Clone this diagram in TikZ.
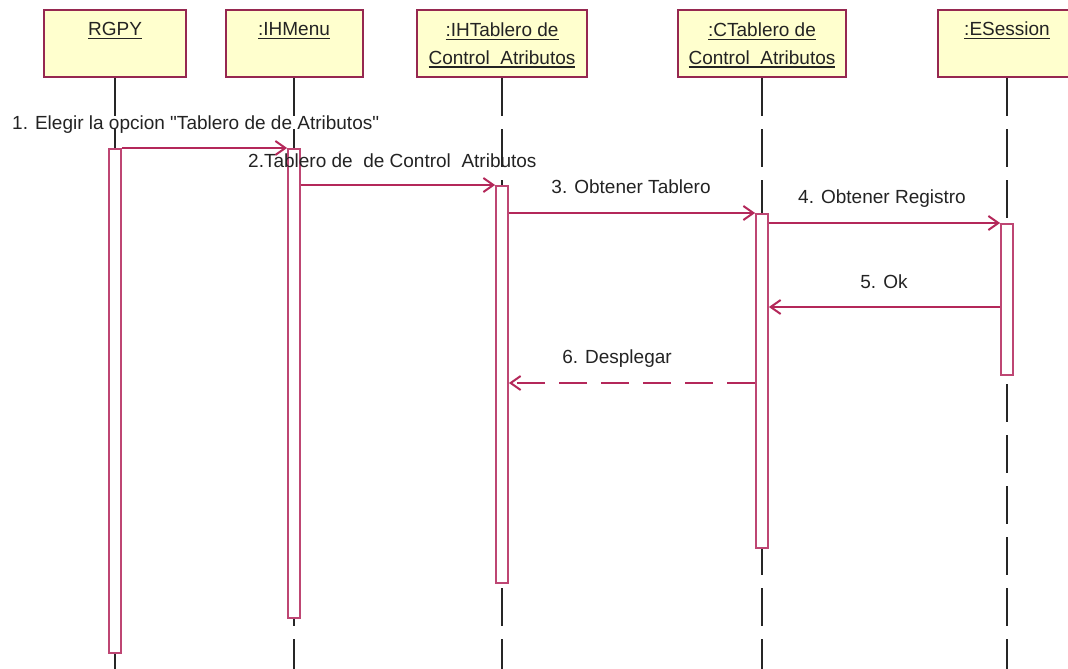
\documentclass[tikz,border=0pt]{standalone}
\usepackage{fontspec}
\newfontfamily\lsans{Liberation Sans}
\usetikzlibrary{arrows.meta}
\definecolor{boxline}{RGB}{150,40,80}
\definecolor{boxfill}{RGB}{255,255,206}
\definecolor{barline}{RGB}{190,70,115}
\definecolor{msg}{RGB}{180,40,90}
\definecolor{txt}{RGB}{35,35,35}
\newcommand\myul[1]{\sbox0{#1}\rlap{\rule[-3.5pt]{\wd0}{1.6pt}}\usebox0}
\begin{document}
\begin{tikzpicture}[x=1pt,y=-1pt,
 obj/.style={draw=boxline, line width=2pt, fill=boxfill, inner sep=0pt, minimum height=67pt},
 lab/.style={inner sep=0pt, text=txt, font=\lsans\fontsize{19}{22}\selectfont},
 life/.style={draw=black!85, line width=1.6pt, dash pattern=on 38pt off 13pt},
 actbar/.style={draw=barline, line width=1.8pt, fill=white, inner sep=0pt, minimum width=12pt, anchor=north},
 msgline/.style={draw=msg, line width=2pt, -{Straight Barb[length=10pt,width=14pt]}},
 retline/.style={msgline, dash pattern=on 28pt off 14pt}]
\useasboundingbox (0,0) rectangle (1068,669);
% objects
\node[obj, minimum width=142pt] (rgpy) at (115,43.5) {};
\node[obj, minimum width=137pt] (ihm) at (294,43.5) {};
\node[obj, minimum width=170pt] (iht) at (502,43.5) {};
\node[obj, minimum width=168pt] (ct) at (762,43.5) {};
\node[obj, minimum width=138pt] (es) at (1007,43.5) {};
% object labels
\node[lab, anchor=base] (rgpyl) at (115,36) {\myul{RGPY}};
\node[lab, anchor=base] (ihml) at (294,36) {\myul{:IHMenu}};
\node[lab, anchor=base] (ihtl1) at (502,37) {\myul{:IHTablero de}};
\node[lab, anchor=base] (ihtl2) at (502,64) {\myul{Control\ \ Atributos}};
\node[lab, anchor=base] (ctl1) at (762,37) {\myul{:CTablero de}};
\node[lab, anchor=base] (ctl2) at (762,64) {\myul{Control\ \ Atributos}};
\node[lab, anchor=base] (esl) at (1007,36) {\myul{:ESession}};
% lifeline ends
\coordinate (e1) at (115,669);
\coordinate (e2) at (294,669);
\coordinate (e3) at (502,669);
\coordinate (e4) at (762,669);
\coordinate (e5) at (1007,669);
\draw[life] (rgpy.south) -- (e1);
\draw[life] (ihm.south) -- (e2);
\draw[life] (iht.south) -- (e3);
\draw[life] (ct.south) -- (e4);
\draw[life] (es.south) -- (e5);
% activation bars
\node[actbar, minimum height=504pt] (b1) at (115,148) {};
\node[actbar, minimum height=469pt] (b2) at (294,148) {};
\node[actbar, minimum height=397pt] (b3) at (502,185) {};
\node[actbar, minimum height=334pt] (b4) at (762,213) {};
\node[actbar, minimum height=151pt] (b5) at (1007,223) {};
% messages
\coordinate (m5) at (0,307);
\coordinate (m6) at (0,383);
\draw[msgline] (b1.north east) -- (b2.north west);
\draw[msgline] (b2.east |- b3.north) -- (b3.north west);
\draw[msgline] (b3.east |- b4.north) -- (b4.north west);
\draw[msgline] (b4.east |- b5.north) -- (b5.north west);
\draw[msgline] (b5.west |- m5) -- (b4.east |- m5);
\draw[retline] (b4.west |- m6) -- (b3.east |- m6);
% message labels
\node[lab, anchor=base west] (t1) at (12,129) {1. Elegir la opcion "Tablero de de Atributos"};
\node[lab, anchor=base west] (t2) at (248,167) {2.Tablero de\ \ de Control\ \ Atributos};
\node[lab, anchor=base] (t3) at (631,193) {3. Obtener Tablero};
\node[lab, anchor=base] (t4) at (882,203) {4. Obtener Registro};
\node[lab, anchor=base] (t5) at (884,288) {5. Ok};
\node[lab, anchor=base] (t6) at (617,363) {6. Desplegar};
\end{tikzpicture}
\end{document}
